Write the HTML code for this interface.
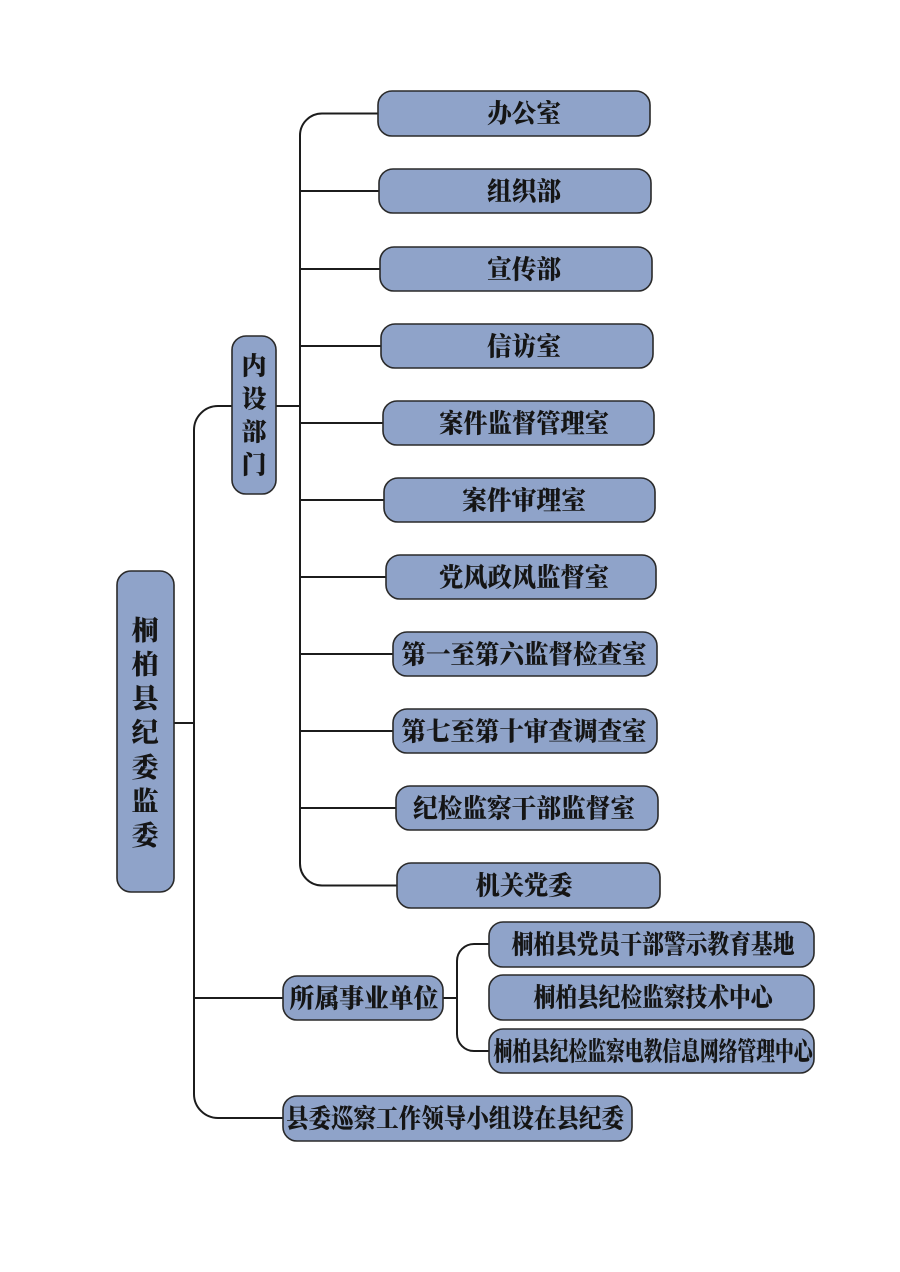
<!DOCTYPE html>
<html><head><meta charset="utf-8"><style>
html,body{margin:0;padding:0;background:#fff;}
svg{display:block;}
text{font-family:"Liberation Serif","Noto Serif CJK SC",serif;font-weight:900;fill:#151515;}
</style></head><body>
<svg width="900" height="1272" viewBox="0 0 900 1272" xmlns="http://www.w3.org/2000/svg">
<g fill="none" stroke="#1c1c1c" stroke-width="2">
<path d="M378 113.5 H322 A22 22 0 0 0 300 135.5 V863.5 A22 22 0 0 0 322 885.5 H397"/>
<path d="M300 191 H379 M300 269 H380 M300 346 H381 M300 423 H383 M300 500 H384 M300 577 H386 M300 654 H393 M300 731 H393 M300 808 H396"/>
<path d="M276 406 H300"/>
<path d="M232 406 H218 A24 24 0 0 0 194 430 V1094 A24 24 0 0 0 218 1118 H283"/>
<path d="M174 723 H194 M194 998 H283 M443 998 H457"/>
<path d="M489 944 H474 A17 17 0 0 0 457 961 V1034 A17 17 0 0 0 474 1051 H489"/>
</g>
<g fill="#8fa3c9" stroke="#2a2a2a" stroke-width="1.6">
<rect x="378" y="91" width="272" height="45" rx="14"/>
<rect x="379" y="169" width="272" height="44" rx="14"/>
<rect x="380" y="247" width="272" height="44" rx="14"/>
<rect x="381" y="324" width="272" height="44" rx="14"/>
<rect x="383" y="401" width="271" height="44" rx="14"/>
<rect x="384" y="478" width="271" height="44" rx="14"/>
<rect x="386" y="555" width="270" height="44" rx="14"/>
<rect x="393" y="632" width="264" height="44" rx="14"/>
<rect x="393" y="709" width="264" height="44" rx="14"/>
<rect x="396" y="786" width="262" height="44" rx="14"/>
<rect x="397" y="863" width="263" height="45" rx="14"/>
<rect x="232" y="336" width="44" height="158" rx="14"/>
<rect x="117" y="571" width="57" height="321" rx="14"/>
<rect x="283" y="976" width="160" height="44" rx="14"/>
<rect x="489" y="922" width="325" height="45" rx="14"/>
<rect x="489" y="975" width="325" height="45" rx="14"/>
<rect x="489" y="1029" width="325" height="44" rx="14"/>
<rect x="283" y="1096" width="349" height="45" rx="14"/>
</g>
<g font-size="26" text-anchor="middle" dominant-baseline="central">
<text x="524" y="114" textLength="74" lengthAdjust="spacingAndGlyphs">办公室</text>
<text x="524" y="192" textLength="74" lengthAdjust="spacingAndGlyphs">组织部</text>
<text x="524" y="270" textLength="74" lengthAdjust="spacingAndGlyphs">宣传部</text>
<text x="524" y="347" textLength="74" lengthAdjust="spacingAndGlyphs">信访室</text>
<text x="524" y="424" textLength="170" lengthAdjust="spacingAndGlyphs">案件监督管理室</text>
<text x="524" y="501" textLength="124" lengthAdjust="spacingAndGlyphs">案件审理室</text>
<text x="524" y="578" textLength="170" lengthAdjust="spacingAndGlyphs">党风政风监督室</text>
<text x="524" y="655" textLength="245" lengthAdjust="spacingAndGlyphs">第一至第六监督检查室</text>
<text x="524" y="732" textLength="245" lengthAdjust="spacingAndGlyphs">第七至第十审查调查室</text>
<text x="524" y="809" textLength="222" lengthAdjust="spacingAndGlyphs">纪检监察干部监督室</text>
<text x="524" y="886" textLength="97" lengthAdjust="spacingAndGlyphs">机关党委</text>
<text x="364" y="999" textLength="149" lengthAdjust="spacingAndGlyphs">所属事业单位</text>
<text x="653" y="945" textLength="283" lengthAdjust="spacingAndGlyphs">桐柏县党员干部警示教育基地</text>
<text x="653" y="998" textLength="239" lengthAdjust="spacingAndGlyphs">桐柏县纪检监察技术中心</text>
<text x="653" y="1052" textLength="319" lengthAdjust="spacingAndGlyphs">桐柏县纪检监察电教信息网络管理中心</text>
<text x="455" y="1119" textLength="338" lengthAdjust="spacingAndGlyphs">县委巡察工作领导小组设在县纪委</text>
</g>
<g font-size="25" text-anchor="middle" dominant-baseline="central">
<text x="254" y="367">内</text>
<text x="254" y="400">设</text>
<text x="254" y="433">部</text>
<text x="254" y="466">门</text>
</g>
<g font-size="27" text-anchor="middle" dominant-baseline="central">
<text x="145" y="631">桐</text>
<text x="145" y="665">柏</text>
<text x="145" y="699">县</text>
<text x="145" y="733">纪</text>
<text x="145" y="768">委</text>
<text x="145" y="802">监</text>
<text x="145" y="836">委</text>
</g>
</svg>
</body></html>
